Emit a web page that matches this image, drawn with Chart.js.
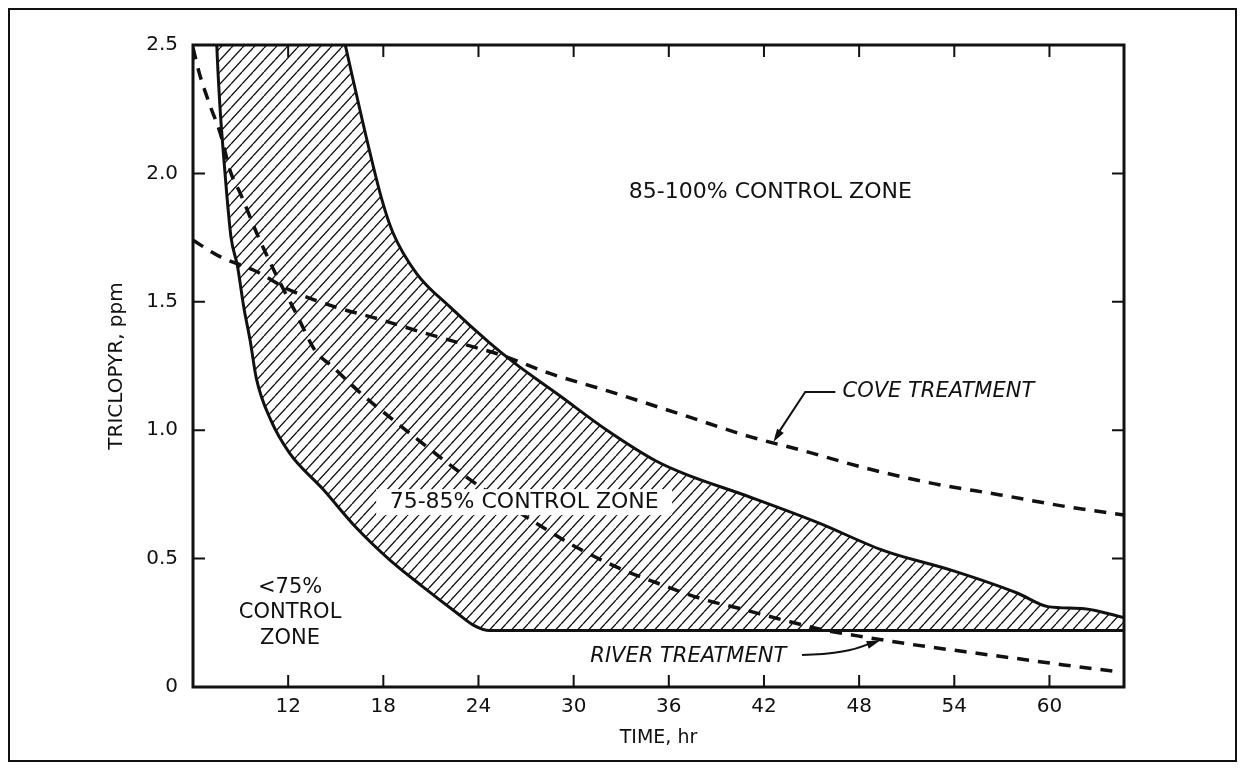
<!DOCTYPE html>
<html>
<head>
<meta charset="utf-8">
<script src="https://cdn.jsdelivr.net/npm/chart.js@4"></script>
<style>
  body { margin: 0; background: #fff; }
  canvas { display: block; }
</style>
</head>
<body>
<canvas id="chart" width="1244" height="769"></canvas>
<script>
// tick values
const xTicks = [12, 18, 24, 30, 36, 42, 48, 54, 60];
const yTicks = [0, 0.5, 1.0, 1.5, 2.0, 2.5];

// upper edge of the 75-85% zone (solid)
const upperX = [7.45, 15.3, 15.6, 16.7, 17.9, 18.6, 20.1, 22.2, 24.7, 26.3, 29.0, 32.1, 35.2, 37.0, 41.1, 45.4, 49.6, 53.8, 58.0, 59.9, 62.2, 64.7];
const upperY = [2.7, 2.58, 2.5, 2.2, 1.9, 1.77, 1.61, 1.48, 1.34, 1.26, 1.14, 1.0, 0.88, 0.83, 0.74, 0.64, 0.53, 0.455, 0.365, 0.313, 0.305, 0.27];

// lower edge of the 75-85% zone (solid)
const lowerX = [7.45, 7.5, 7.7, 7.9, 8.1, 8.4, 8.8, 9.2, 9.6, 10.0, 10.9, 12.1, 14.2, 16.3, 18.4, 20.5, 22.6, 23.7, 24.7, 64.7];
const lowerY = [2.6, 2.5, 2.26, 2.09, 1.94, 1.75, 1.64, 1.48, 1.35, 1.2, 1.04, 0.91, 0.77, 0.62, 0.495, 0.39, 0.29, 0.24, 0.22, 0.22];

// cove treatment (dashed)
const coveX = [6, 7.7, 9.8, 12.1, 14.9, 17.6, 20.3, 22.9, 25.4, 28.5, 32.3, 36.9, 41.1, 44.3, 48.5, 52.7, 56.9, 61.1, 64.7];
const coveY = [1.74, 1.676, 1.624, 1.546, 1.481, 1.435, 1.384, 1.338, 1.293, 1.221, 1.15, 1.059, 0.975, 0.923, 0.851, 0.792, 0.748, 0.702, 0.67];

// river treatment (dashed)
const riverX = [6.0, 6.4, 7.1, 7.7, 8.4, 9.0, 10.0, 11.2, 12.5, 13.7, 14.8, 16.7, 18.9, 21.0, 23.2, 28.0, 30.3, 32.9, 35.3, 38.0, 40.7, 43.2, 45.8, 48.5, 51.5, 54.6, 57.8, 60.9, 64.5];
const riverY = [2.49, 2.39, 2.26, 2.16, 2.0, 1.92, 1.77, 1.61, 1.455, 1.31, 1.247, 1.137, 1.026, 0.923, 0.819, 0.624, 0.54, 0.462, 0.404, 0.345, 0.302, 0.261, 0.222, 0.193, 0.164, 0.138, 0.112, 0.086, 0.058];

const pts = (xs, ys) => xs.map((x, i) => ({ x: x, y: ys[i] }));

const INK = '#111';
const FONT = '"DejaVu Sans", sans-serif';

// diagonal hatch for the middle zone
function hatch() {
    const c = document.createElement('canvas');
    c.width = 11; c.height = 12;
    const g = c.getContext('2d');
    g.strokeStyle = INK;
    g.lineWidth = 1.3;
    g.beginPath();
    [-11, 0, 11].forEach(dx => { g.moveTo(dx, 12); g.lineTo(dx + 11, 0); });
    g.stroke();
    return g.createPattern(c, 'repeat');
}

function arrowHead(ctx, fx, fy, tx, ty) {
    const a = Math.atan2(ty - fy, tx - fx);
    ctx.beginPath();
    ctx.moveTo(tx, ty);
    ctx.lineTo(tx - 13 * Math.cos(a) + 4 * Math.sin(a), ty - 13 * Math.sin(a) - 4 * Math.cos(a));
    ctx.lineTo(tx - 13 * Math.cos(a) - 4 * Math.sin(a), ty - 13 * Math.sin(a) + 4 * Math.cos(a));
    ctx.closePath();
    ctx.fill();
}

/** frame, inward ticks and the zone / curve labels */
const paper = {
    id: 'paper',
    afterDatasetsDraw(chart) {
        const ctx = chart.ctx;
        const xs = chart.scales.x, ys = chart.scales.y;
        const px = v => xs.getPixelForValue(v), py = v => ys.getPixelForValue(v);
        ctx.save();
        ctx.fillStyle = INK;
        ctx.strokeStyle = INK;
        ctx.textAlign = 'center';
        ctx.textBaseline = 'middle';

        // white gap in the hatch behind the middle label
        ctx.fillStyle = '#fff';
        ctx.fillRect(px(26.88) - 148, py(0.72) - 13, 296, 26);
        ctx.fillStyle = INK;

        ctx.font = '22px ' + FONT;
        ctx.fillText('85-100% CONTROL ZONE', px(42.4), py(1.928));
        ctx.fillText('75-85% CONTROL ZONE', px(26.88), py(0.72));
        ctx.font = '21px ' + FONT;
        ctx.fillText('<75%', px(12.12), py(0.386));
        ctx.fillText('CONTROL', px(12.12), py(0.288));
        ctx.fillText('ZONE', px(12.12), py(0.187));

        ctx.font = 'italic 21px ' + FONT;
        ctx.textAlign = 'left';
        ctx.fillText('COVE TREATMENT', px(46.95), py(1.149));
        ctx.fillText('RIVER TREATMENT', px(31.05), py(0.117));

        // leaders
        ctx.lineWidth = 2;
        ctx.beginPath();
        ctx.moveTo(px(46.5), py(1.149));
        ctx.lineTo(px(44.6), py(1.149));
        ctx.lineTo(px(42.75), py(0.975));
        ctx.stroke();
        arrowHead(ctx, px(44.6), py(1.149), px(42.6), py(0.955));

        ctx.beginPath();
        ctx.moveTo(px(44.4), py(0.125));
        ctx.quadraticCurveTo(px(47.2), py(0.128), px(48.6), py(0.168));
        ctx.stroke();
        arrowHead(ctx, px(47.6), py(0.145), px(49.3), py(0.18));
        ctx.restore();
    },
    afterDraw(chart) {
        const ctx = chart.ctx;
        const a = chart.chartArea;
        const xs = chart.scales.x, ys = chart.scales.y;
        ctx.save();
        ctx.strokeStyle = INK;
        // outer border of the figure
        ctx.lineWidth = 2;
        ctx.strokeRect(9, 9, 1227, 752);
        // plot box
        ctx.lineWidth = 3;
        ctx.strokeRect(a.left, a.top, a.right - a.left, a.bottom - a.top);
        // inward tick marks on all four sides
        ctx.lineWidth = 2;
        ctx.beginPath();
        xTicks.forEach(v => {
            const x = xs.getPixelForValue(v);
            ctx.moveTo(x, a.bottom); ctx.lineTo(x, a.bottom - 12);
            ctx.moveTo(x, a.top); ctx.lineTo(x, a.top + 12);
        });
        yTicks.forEach(v => {
            const y = ys.getPixelForValue(v);
            ctx.moveTo(a.left, y); ctx.lineTo(a.left + 12, y);
            ctx.moveTo(a.right, y); ctx.lineTo(a.right - 12, y);
        });
        ctx.stroke();
        ctx.restore();
    }
};

const solid = { borderColor: INK, borderWidth: 3, pointRadius: 0, cubicInterpolationMode: 'monotone' };
const dashed = { borderColor: INK, borderWidth: 3.5, borderDash: [12, 9], pointRadius: 0, cubicInterpolationMode: 'monotone', fill: false };

new Chart(document.getElementById('chart'), {
    type: 'scatter',
    data: {
        datasets: [
            Object.assign({ data: pts(upperX, upperY), showLine: true, fill: '+1', backgroundColor: hatch() }, solid),
            Object.assign({ data: pts(lowerX, lowerY), showLine: true, fill: false }, solid),
            Object.assign({ data: pts(coveX, coveY), showLine: true }, dashed),
            Object.assign({ data: pts(riverX, riverY), showLine: true }, dashed)
        ]
    },
    options: {
        responsive: false,
        animation: false,
        events: [],
        layout: { padding: { top: 45, right: 120, left: 0, bottom: 0 } },
        plugins: { legend: { display: false }, tooltip: { enabled: false } },
        scales: {
            x: {
                type: 'linear', min: 6, max: 64.7,
                afterBuildTicks: s => { s.ticks = xTicks.map(v => ({ value: v })); },
                afterFit: s => { s.height = 82; },
                grid: { display: false, drawTicks: false },
                border: { display: false },
                ticks: { color: INK, padding: 8, font: { family: FONT, size: 20 } },
                title: { display: true, text: 'TIME, hr', color: INK, padding: { top: 0, bottom: 20 }, font: { family: FONT, size: 19 } }
            },
            y: {
                type: 'linear', min: 0, max: 2.5,
                afterBuildTicks: s => { s.ticks = yTicks.map(v => ({ value: v })); },
                afterFit: s => { s.width = 193; },
                grid: { display: false, drawTicks: false },
                border: { display: false },
                ticks: {
                    color: INK, padding: 15, font: { family: FONT, size: 20 },
                    callback: v => v === 0 ? '0' : v.toFixed(1)
                },
                title: { display: true, text: 'TRICLOPYR, ppm', color: INK, padding: { top: 105, bottom: 0 }, font: { family: FONT, size: 20 } }
            }
        }
    },
    plugins: [paper]
});
</script>
</body>
</html>
